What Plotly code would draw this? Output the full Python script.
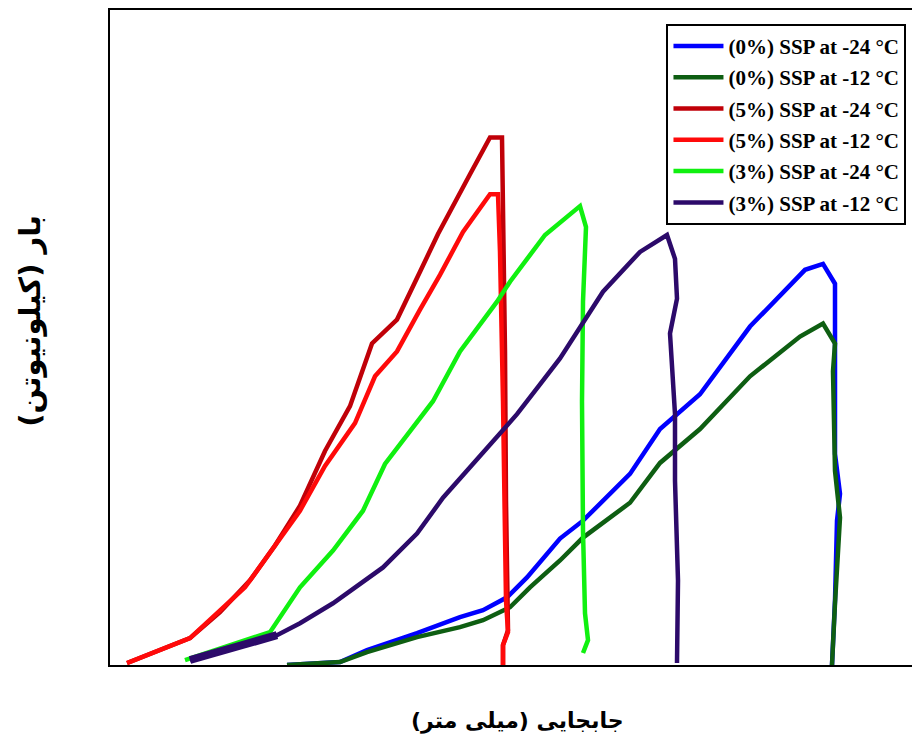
import plotly.graph_objects as go

# Displacement (mm, arbitrary scale) and load (kN, arbitrary scale)
ssp0_m24_x = [1.77, 2.30, 2.57, 3.07, 3.50, 3.73, 3.97, 4.17, 4.50, 4.73, 5.20, 5.50, 5.90, 6.40, 6.95, 7.13, 7.25, 7.25, 7.30, 7.27, 7.25, 7.22]
ssp0_m24_y = [0.00, 0.03, 0.15, 0.32, 0.48, 0.55, 0.68, 0.88, 1.27, 1.45, 1.92, 2.37, 2.72, 3.40, 3.97, 4.03, 3.83, 2.12, 1.72, 1.45, 0.65, 0.00]

ssp0_m12_x = [1.77, 2.30, 2.57, 3.07, 3.50, 3.73, 4.00, 4.20, 4.50, 4.73, 5.20, 5.50, 5.90, 6.40, 6.90, 7.13, 7.25, 7.23, 7.25, 7.30, 7.25, 7.22]
ssp0_m12_y = [0.00, 0.03, 0.13, 0.28, 0.38, 0.45, 0.58, 0.78, 1.05, 1.28, 1.63, 2.03, 2.37, 2.90, 3.30, 3.43, 3.23, 2.95, 1.95, 1.48, 0.62, 0.00]

ssp5_m24_x = [0.17, 0.80, 1.10, 1.40, 1.65, 1.90, 2.15, 2.40, 2.62, 2.87, 3.10, 3.28, 3.60, 3.80, 3.92, 3.93, 3.95, 3.96, 3.97, 3.98, 3.93, 3.93]
ssp5_m24_y = [0.02, 0.27, 0.53, 0.85, 1.20, 1.60, 2.15, 2.60, 3.23, 3.47, 3.95, 4.33, 4.93, 5.30, 5.30, 4.65, 3.15, 1.65, 0.65, 0.35, 0.20, 0.00]

ssp5_m12_x = [0.17, 0.80, 1.35, 1.60, 1.90, 2.15, 2.45, 2.65, 2.87, 3.10, 3.30, 3.53, 3.80, 3.88, 3.90, 3.93, 3.95, 3.96, 3.98, 3.93, 3.93]
ssp5_m12_y = [0.02, 0.27, 0.78, 1.13, 1.55, 2.00, 2.43, 2.90, 3.15, 3.57, 3.92, 4.35, 4.73, 4.73, 4.15, 2.65, 1.65, 0.65, 0.33, 0.20, 0.00]

ssp3_m24_x = [0.75, 1.20, 1.60, 1.90, 2.23, 2.53, 2.75, 3.23, 3.50, 3.87, 4.00, 4.35, 4.70, 4.76, 4.73, 4.72, 4.73, 4.75, 4.78, 4.73]
ssp3_m24_y = [0.05, 0.20, 0.33, 0.78, 1.15, 1.55, 2.02, 2.65, 3.15, 3.65, 3.85, 4.32, 4.61, 4.40, 3.65, 2.65, 1.35, 0.52, 0.25, 0.12]

ssp3_m12_x = [0.80, 1.67, 1.90, 2.23, 2.73, 3.07, 3.33, 3.63, 4.07, 4.30, 4.50, 4.93, 5.30, 5.57, 5.65, 5.67, 5.60, 5.65, 5.65, 5.68, 5.67]
ssp3_m12_y = [0.05, 0.30, 0.42, 0.62, 0.98, 1.32, 1.68, 2.02, 2.52, 2.82, 3.08, 3.75, 4.15, 4.32, 4.08, 3.68, 3.33, 2.52, 1.85, 0.85, 0.02]

series = [
    ("(0%) SSP at -24 °C", ssp0_m24_x, ssp0_m24_y, "#0000FF"),
    ("(0%) SSP at -12 °C", ssp0_m12_x, ssp0_m12_y, "#0E5E12"),
    ("(5%) SSP at -24 °C", ssp5_m24_x, ssp5_m24_y, "#C00008"),
    ("(5%) SSP at -12 °C", ssp5_m12_x, ssp5_m12_y, "#FF0A0A"),
    ("(3%) SSP at -24 °C", ssp3_m24_x, ssp3_m24_y, "#10F010"),
    ("(3%) SSP at -12 °C", ssp3_m12_x, ssp3_m12_y, "#2C0A6A"),
]

x_title = "جابجایی (میلی متر)"
y_title = "بار (کیلونیوتن)"

fig = go.Figure()
for i, (name, xs, ys, col) in enumerate(series):
    fig.add_trace(go.Scatter(x=xs, y=ys, mode="lines", name=name,
                             legendgroup=f"g{i}",
                             line=dict(color=col, width=4.5)))

# thicker initial segment of the purple curve
fig.add_trace(go.Scatter(x=ssp3_m12_x[:2], y=ssp3_m12_y[:2], mode="lines",
                         showlegend=False, legendgroup="g5",
                         line=dict(color="#2C0A6A", width=8)))

fig.update_layout(
    width=912, height=747,
    margin=dict(l=102, r=0, t=0, b=90),
    paper_bgcolor="white", plot_bgcolor="white",
    showlegend=True,
    legend=dict(
        x=0.687, y=0.979, xanchor="left", yanchor="top",
        bgcolor="white", bordercolor="black", borderwidth=2,
        font=dict(family="Liberation Serif", size=21, color="black", weight="bold"),
        itemwidth=50, tracegroupgap=1,
    ),
    xaxis=dict(range=[0, 8.10], showticklabels=False, ticks="", showgrid=False,
               zeroline=False, showline=True, linecolor="black", linewidth=2,
               mirror=True),
    yaxis=dict(range=[0, 6.58], showticklabels=False, ticks="", showgrid=False,
               zeroline=False, showline=True, linecolor="black", linewidth=2),
    annotations=[
        dict(text=x_title, xref="paper", yref="paper", x=0.503, y=-0.085,
             xanchor="center", yanchor="middle", showarrow=False,
             font=dict(family="DejaVu Sans", size=22, color="black", weight="bold")),
        dict(text=y_title, xref="paper", yref="paper", x=-0.098, y=0.525,
             xanchor="center", yanchor="middle", showarrow=False, textangle=-90,
             font=dict(family="DejaVu Sans", size=29, color="black", weight="bold")),
    ],
)

fig.write_html("out.html")
